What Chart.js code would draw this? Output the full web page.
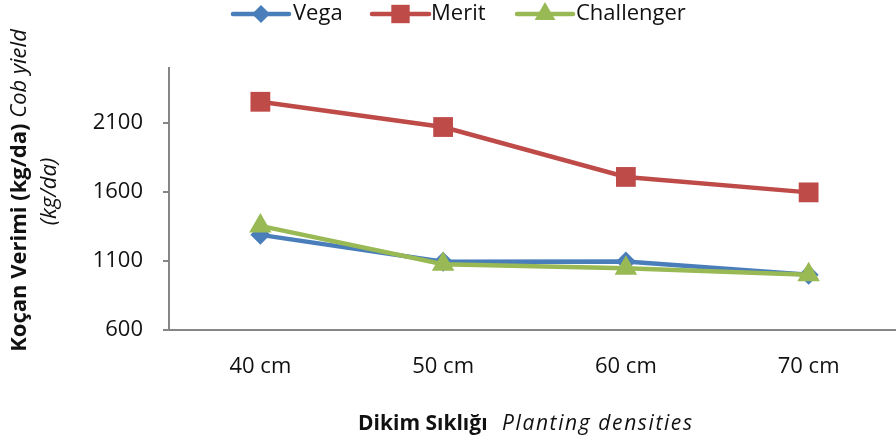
<!DOCTYPE html>
<html>
<head>
<meta charset="utf-8">
<script src="https://cdn.jsdelivr.net/npm/chart.js@4/dist/chart.umd.min.js"></script>
<style>
html,body{margin:0;padding:0;background:#fff;overflow:hidden;}
#wrap{width:896px;height:443px;position:relative;overflow:hidden;}
canvas{display:block;}
</style>
</head>
<body>
<div id="wrap"><canvas id="c" width="914" height="443"></canvas></div>
<script>
const categories = ["40 cm", "50 cm", "60 cm", "70 cm"];
const vega = [1290, 1095, 1097, 1000];
const merit = [2255, 2072, 1710, 1598];
const challenger = [1355, 1077, 1048, 1000];
const yTicks = [600, 1100, 1600, 2100];
const seriesNames = ["Vega", "Merit", "Challenger"];
const yTitleBold = "Koçan Verimi (kg/da)";
const yTitleItalic = " Cob yield";
const yTitleLine2 = "(kg/da)";
const xTitleBold = "Dikim Sıklığı";
const xTitleItalic = "Planting densities";

const colors = {Vega: "#4A7EBB", Merit: "#BE4B48", Challenger: "#98B954"};
const FONT = "'Open Sans', sans-serif";
const TXT = "#111";

function drawMarker(ctx, style, x, y, r, color) {
  ctx.save();
  ctx.fillStyle = color;
  ctx.beginPath();
  if (style === "rectRot") {
    ctx.moveTo(x, y - r); ctx.lineTo(x + r, y); ctx.lineTo(x, y + r); ctx.lineTo(x - r, y);
  } else if (style === "rect") {
    const s = r * Math.SQRT1_2;
    ctx.rect(x - s, y - s, 2 * s, 2 * s);
  } else if (style === "triangle") {
    const a = 2 * Math.PI / 3;
    ctx.moveTo(x, y - r);
    ctx.lineTo(x + Math.sin(a) * r, y - Math.cos(a) * r);
    ctx.lineTo(x + Math.sin(2 * a) * r, y - Math.cos(2 * a) * r);
  }
  ctx.closePath();
  ctx.fill();
  ctx.restore();
}

const decorPlugin = {
  id: "decor",
  afterDraw(chart) {
    const ctx = chart.ctx;
    ctx.save();
    // Legend
    const legendItems = [
      {name: seriesNames[0], style: "rectRot", r: 9, x0: 233, x1: 289, tx: 293},
      {name: seriesNames[1], style: "rect", r: 13, x0: 372, x1: 429, tx: 431},
      {name: seriesNames[2], style: "triangle", r: 12, x0: 517, x1: 573, tx: 576}
    ];
    const ly = 14;
    legendItems.forEach(it => {
      const col = colors[it.name];
      ctx.strokeStyle = col;
      ctx.lineWidth = 4.5;
      ctx.lineCap = "round";
      ctx.beginPath(); ctx.moveTo(it.x0, ly); ctx.lineTo(it.x1, ly); ctx.stroke();
      drawMarker(ctx, it.style, (it.x0 + it.x1) / 2, ly, it.r, col);
      ctx.fillStyle = TXT;
      ctx.font = "22px " + FONT;
      ctx.textAlign = "left";
      ctx.textBaseline = "middle";
      ctx.fillText(it.name, it.tx, ly);
    });
    // X title
    ctx.fillStyle = TXT;
    ctx.textBaseline = "middle";
    ctx.textAlign = "left";
    ctx.font = "bold 21px " + FONT;
    ctx.fillText(xTitleBold, 358, 424);
    ctx.font = "italic 21px " + FONT;
    const wi = ctx.measureText(xTitleItalic).width;
    const extra = (190 - wi) / (xTitleItalic.length - 1);
    ctx.letterSpacing = Math.max(0, extra).toFixed(2) + "px";
    ctx.fillText(xTitleItalic, 502, 424);
    ctx.letterSpacing = "0px";
    // Y title
    ctx.save();
    ctx.rotate(-Math.PI / 2);
    const bFont = "bold 22px " + FONT;
    const iFont = "italic 22px " + FONT;
    ctx.font = bFont; const yb = ctx.measureText(yTitleBold).width;
    ctx.font = iFont; const yi = ctx.measureText(yTitleItalic).width;
    let ys = -190.5 - (yb + yi) / 2;
    ctx.font = bFont; ctx.fillText(yTitleBold, ys, 20);
    ctx.font = iFont; ctx.fillText(yTitleItalic, ys + yb, 20);
    const y2 = ctx.measureText(yTitleLine2).width;
    ctx.fillText(yTitleLine2, -191.5 - y2 / 2, 50);
    ctx.restore();
    ctx.restore();
  }
};

function ds(label, data, style, r, order) {
  return {
    label: label, data: data, borderColor: colors[label], backgroundColor: colors[label],
    borderWidth: 4.5, pointStyle: style, pointRadius: r, pointHoverRadius: r,
    pointBorderWidth: 0, pointBackgroundColor: colors[label], tension: 0, order: order
  };
}

new Chart(document.getElementById("c"), {
  type: "line",
  data: {
    labels: categories,
    datasets: [
      ds("Vega", vega, "rectRot", 10, 3),
      ds("Merit", merit, "rect", 14, 2),
      ds("Challenger", challenger, "triangle", 13, 1)
    ]
  },
  options: {
    responsive: false,
    animation: false,
    devicePixelRatio: 1,
    layout: {padding: {left: 0, top: 68, right: 0, bottom: 0}},
    plugins: {legend: {display: false}, tooltip: {enabled: false}},
    scales: {
      x: {
        offset: true,
        grid: {display: false, drawTicks: false},
        border: {display: true, color: "#868686", width: 2},
        ticks: {color: TXT, font: {family: FONT, size: 22}, padding: 24},
        afterFit(s) { s.height = 113; s.paddingLeft = 0; s.paddingRight = 0; }
      },
      y: {
        min: 600, max: 2500,
        grid: {display: true, drawOnChartArea: false, drawTicks: true, tickLength: 6, color: "#868686", lineWidth: 2},
        border: {display: true, color: "#868686", width: 2},
        ticks: {color: TXT, font: {family: FONT, size: 22}, padding: 20, callback: v => String(v)},
        afterBuildTicks(s) { s.ticks = yTicks.map(v => ({value: v})); },
        afterFit(s) { s.width = 169; s.paddingTop = 0; s.paddingBottom = 0; }
      }
    }
  },
  plugins: [decorPlugin]
});
</script>
</body>
</html>
